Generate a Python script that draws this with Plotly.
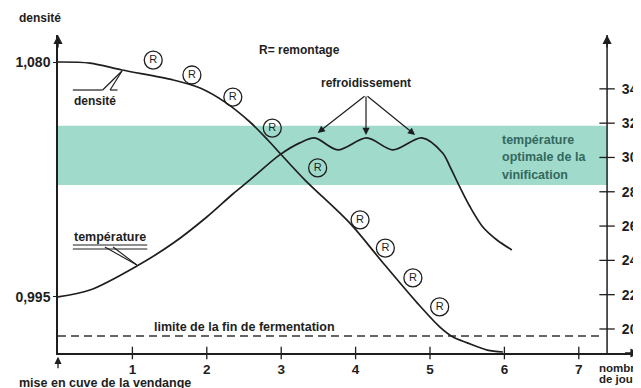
import plotly.graph_objects as go

# ---------------- data ----------------
days_density = [0.0, 0.43, 0.86, 1.55, 1.91, 2.245, 2.58, 2.82, 2.98, 3.32, 3.92, 4.37,
                4.83, 5.13, 5.31, 5.50, 5.77, 5.98]
density = [1.0800, 1.0796, 1.0771, 1.0735, 1.0706, 1.0655, 1.0583, 1.0518, 1.0471, 1.0373,
           1.0218, 1.0073, 0.9928, 0.9842, 0.9805, 0.9784, 0.9758, 0.9751]

days_temperature = [0.0, 0.43, 1.06, 1.55, 2.00, 2.35, 2.58, 2.98, 3.25, 3.45, 3.76, 4.15,
                    4.50, 4.89, 5.17, 5.27, 5.40, 5.54, 5.71, 5.90, 6.10]
temperature = [21.87, 22.27, 23.67, 25.01, 26.53, 27.87, 28.69, 30.15, 30.85, 31.14, 30.44,
               31.14, 30.44, 31.14, 30.26, 29.45, 28.28, 27.11, 25.95, 25.19, 24.61]

remontage_days = [1.28, 1.80, 2.35, 2.88, 3.49, 4.06, 4.40, 4.77, 5.13]
remontage_density = [1.0807, 1.0753, 1.0673, 1.0561, 1.0417, 1.0229, 1.0127, 1.0019, 0.9914]

day_ticks = [1, 2, 3, 4, 5, 6, 7]
temp_ticks = [20, 22, 24, 26, 28, 30, 32, 34]
density_ticks = [0.995, 1.080]
density_tick_labels = ["0,995", "1,080"]

optimal_band = [28.4, 31.85]          # température optimale de la vinification
fermentation_limit = 0.9809           # limite de la fin de fermentation (densité)
limit_days = [0.0, 7.28]
cooling_days = [3.49, 4.14, 4.80]     # refroidissement
cooling_temp = [31.43, 31.31, 31.31]

x_range = [0.0, 7.836]
density_range = [0.97474, 1.08977]
temp_range = [18.60, 37.14]
right_axis_day = 7.38

# ---------------- style ----------------
INK = "#1e1e1e"
BAND = "#a0dacb"
BAND_TEXT = "#33685f"
FONT = "Liberation Sans, Arial, sans-serif"


def f(size, color=INK):
    return dict(family=FONT, size=size, color=color, weight="bold")


fig = go.Figure()

# limit of end of fermentation (dashed)
fig.add_trace(go.Scatter(
    x=limit_days, y=[fermentation_limit] * len(limit_days), mode="lines",
    line=dict(color="#333333", width=1.4, dash="8px,5px"), yaxis="y", hoverinfo="skip"))

# density curve
fig.add_trace(go.Scatter(
    x=days_density, y=density, mode="lines",
    line=dict(color=INK, width=1.7, shape="spline", smoothing=0.9), yaxis="y"))

# temperature curve
fig.add_trace(go.Scatter(
    x=days_temperature, y=temperature, mode="lines",
    line=dict(color=INK, width=1.7, shape="spline", smoothing=0.9), yaxis="y2"))

# remontages (R)
fig.add_trace(go.Scatter(
    x=remontage_days, y=remontage_density, mode="markers+text", yaxis="y",
    text=["R"] * len(remontage_days), textposition="middle center",
    textfont=dict(family=FONT, size=11, color=INK),
    marker=dict(symbol="circle-open", size=18, color=INK, line=dict(width=1.3, color=INK)),
    cliponaxis=False))

# crossing ticks on x axis
fig.add_trace(go.Scatter(
    x=day_ticks, y=[density_range[0]] * len(day_ticks), mode="markers", yaxis="y",
    marker=dict(symbol="line-ns", size=9, line=dict(width=1.3, color=INK)),
    cliponaxis=False, hoverinfo="skip"))

# crossing ticks on right temperature axis
fig.add_trace(go.Scatter(
    x=[right_axis_day] * len(temp_ticks), y=temp_ticks, mode="markers", yaxis="y2",
    marker=dict(symbol="line-ew", size=11, line=dict(width=1.3, color=INK)),
    cliponaxis=False, hoverinfo="skip"))

# optimal temperature band
fig.add_shape(type="rect", xref="x", yref="y2", x0=x_range[0], x1=right_axis_day,
              y0=optimal_band[0], y1=optimal_band[1], fillcolor=BAND,
              line=dict(width=0), layer="below")

# right axis line
fig.add_shape(type="line", xref="x", yref="y2", x0=right_axis_day, x1=right_axis_day,
              y0=temp_range[0] - 0.3, y1=temp_range[1], line=dict(color=INK, width=1.5))

# leader lines: "densité"
d_y_line = 1.06987
d_y_tip = 1.07674
fig.add_shape(type="line", xref="x", yref="y", x0=0.20, x1=0.60, y0=d_y_line, y1=d_y_line,
              line=dict(color=INK, width=1.2))
fig.add_shape(type="line", xref="x", yref="y", x0=0.60, x1=0.86, y0=d_y_line, y1=d_y_tip,
              line=dict(color=INK, width=1.2))
fig.add_shape(type="line", xref="x", yref="y", x0=0.70, x1=0.86, y0=d_y_line, y1=d_y_tip,
              line=dict(color=INK, width=1.2))
fig.add_shape(type="line", xref="x", yref="y", x0=0.70, x1=0.80, y0=d_y_line, y1=d_y_line,
              line=dict(color=INK, width=1.2))

# leader lines: "température"
for ty in (24.90, 24.66):
    fig.add_shape(type="line", xref="x", yref="y2", x0=0.20, x1=1.20, y0=ty, y1=ty,
                  line=dict(color=INK, width=1.1))
fig.add_shape(type="line", xref="x", yref="y2", x0=0.63, x1=1.06, y0=24.78, y1=23.73,
              line=dict(color=INK, width=1.1))
fig.add_shape(type="line", xref="x", yref="y2", x0=0.74, x1=1.06, y0=24.78, y1=23.73,
              line=dict(color=INK, width=1.1))

annotations = []

# axis arrowheads
annotations.append(dict(x=0, y=density_range[1], xref="x", yref="y", ax=0, ay=14, text="",
                        showarrow=True, arrowhead=2, arrowsize=1.3, arrowwidth=1.4,
                        arrowcolor=INK))
annotations.append(dict(x=right_axis_day, y=temp_range[1], xref="x", yref="y2", ax=0, ay=14,
                        text="", showarrow=True, arrowhead=2, arrowsize=1.3, arrowwidth=1.4,
                        arrowcolor=INK))
annotations.append(dict(x=x_range[1] - 0.02, y=density_range[0], xref="x", yref="y", ax=-16,
                        ay=0, text="", showarrow=True, arrowhead=2, arrowsize=1.3,
                        arrowwidth=1.4, arrowcolor=INK))
# mise en cuve arrow
annotations.append(dict(x=0, y=-0.012, xref="x", yref="paper", ax=0, ay=13, text="",
                        showarrow=True, arrowhead=2, arrowsize=1.1, arrowwidth=1.3,
                        arrowcolor=INK))

# refroidissement arrows
for cd, ct in zip(cooling_days, cooling_temp):
    annotations.append(dict(x=cd, y=ct, xref="x", yref="y2", ax=4.14, ay=33.64,
                            axref="x", ayref="y2", text="", showarrow=True, arrowhead=2,
                            arrowsize=1.2, arrowwidth=1.2, arrowcolor=INK))

# texts
annotations += [
    dict(x=-0.031, y=1.0535, xref="paper", yref="paper", text="densité", showarrow=False,
         font=f(12), xanchor="center", yanchor="middle"),
    dict(x=3.25, y=36.27, xref="x", yref="y2", text="R= remontage", showarrow=False,
         font=f(12), xanchor="center", yanchor="middle"),
    dict(x=4.14, y=34.34, xref="x", yref="y2", text="refroidissement", showarrow=False,
         font=f(12), xanchor="center", yanchor="middle"),
    dict(x=5.94, y=31.02, xref="x", yref="y2", text="température", showarrow=False,
         font=f(12.5, BAND_TEXT), xanchor="left", yanchor="middle"),
    dict(x=5.94, y=30.0, xref="x", yref="y2", text="optimale de la", showarrow=False,
         font=f(12.5, BAND_TEXT), xanchor="left", yanchor="middle"),
    dict(x=5.94, y=28.98, xref="x", yref="y2", text="vinification", showarrow=False,
         font=f(12.5, BAND_TEXT), xanchor="left", yanchor="middle"),
    dict(x=0.50, y=1.0659, xref="x", yref="y", text="densité", showarrow=False,
         font=f(12), xanchor="center", yanchor="middle"),
    dict(x=0.70, y=25.36, xref="x", yref="y2", text="température", showarrow=False,
         font=f(12.5), xanchor="center", yanchor="middle"),
    dict(x=1.263, y=0.98415, xref="x", yref="y", text="limite de la fin de fermentation",
         showarrow=False, font=f(12.5), xanchor="left", yanchor="middle"),
    dict(x=-0.0703, y=-0.0945, xref="paper", yref="paper", text="mise en cuve de la vendange",
         showarrow=False, font=f(12.5), xanchor="left", yanchor="middle"),
    dict(x=0.9245, y=-0.0460, xref="paper", yref="paper", text="nombre",
         showarrow=False, font=f(11.5), xanchor="left", yanchor="middle"),
    dict(x=0.9245, y=-0.0830, xref="paper", yref="paper", text="de jours",
         showarrow=False, font=f(11.5), xanchor="left", yanchor="middle"),
]

# The page body adds an 8 px margin at top/left, so the figure is 8 px smaller
# and its top/left margins 8 px tighter to keep the plot area in place.
fig.update_layout(
    width=633, height=380, autosize=False,
    margin=dict(l=50, r=0, t=27, b=35, pad=0),
    paper_bgcolor="white", plot_bgcolor="white",
    showlegend=False,
    annotations=annotations,
    xaxis=dict(range=x_range, showline=True, linecolor=INK, linewidth=1.5,
               showgrid=False, zeroline=False, tickvals=day_ticks,
               ticks="outside", ticklen=3, tickcolor="rgba(0,0,0,0)",
               tickfont=f(13.5)),
    yaxis=dict(range=density_range, showline=True, linecolor=INK, linewidth=1.5,
               showgrid=False, zeroline=False, tickvals=density_ticks,
               ticktext=density_tick_labels, ticks="outside", ticklen=3, tickcolor=INK,
               tickfont=f(14)),
    yaxis2=dict(range=temp_range, overlaying="y", side="right", anchor="free",
                position=right_axis_day / x_range[1], showline=False,
                showgrid=False, zeroline=False, tickvals=temp_ticks,
                ticks="outside", ticklen=11, tickcolor="rgba(0,0,0,0)",
                tickfont=f(14)),
)

fig.write_html("out.html")
